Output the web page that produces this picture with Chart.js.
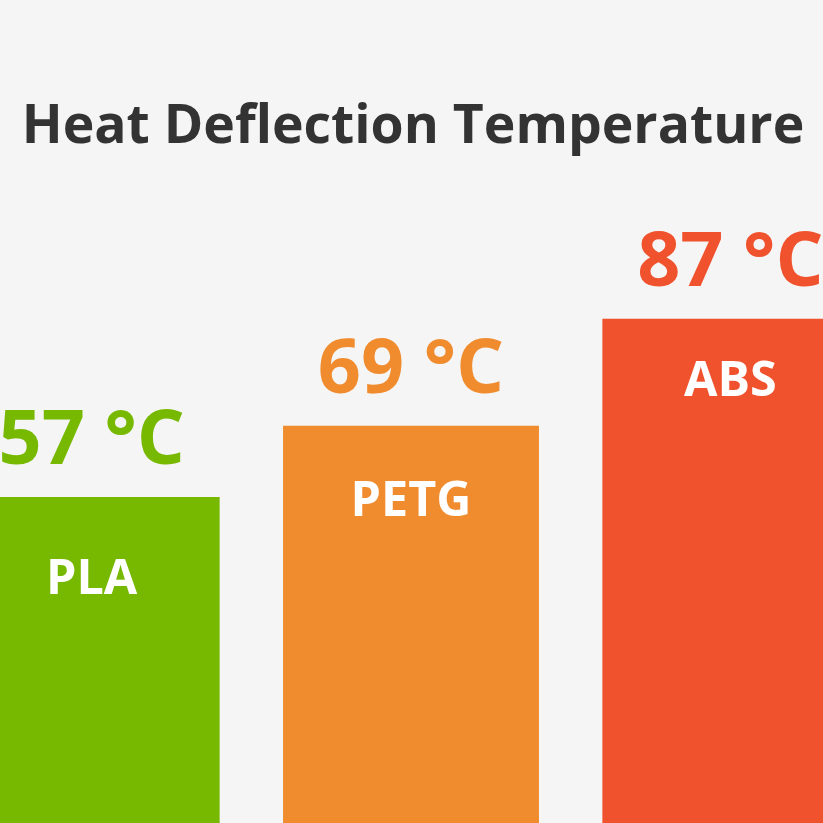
<!DOCTYPE html>
<html>
<head>
<meta charset="utf-8">
<script src="https://cdn.jsdelivr.net/npm/chart.js@4"></script>
<style>
  html, body { margin: 0; padding: 0; background: #f5f5f5; overflow: hidden; width: 823px; height: 823px; }
  #wrap { position: absolute; left: -68px; top: 0; width: 958px; height: 836px; }
</style>
</head>
<body>
<div id="wrap"><canvas id="c" width="958" height="836"></canvas></div>
<script>
const chartTitle = "Heat Deflection Temperature";
const categories = ["PLA", "PETG", "ABS"];
const temperatures = [57, 69, 87];
const unit = "°C";
const barColors = ["#77b800", "#f08c2e", "#f0522d"];

const labelPlugin = {
  id: 'labelPlugin',
  afterDatasetsDraw(chart, args, opts) {
    const ctx = chart.ctx;
    const meta = chart.getDatasetMeta(0);
    ctx.save();
    // title
    ctx.fillStyle = '#333333';
    ctx.font = 'bold 53.5px "Open Sans"';
    ctx.textAlign = 'center';
    ctx.textBaseline = 'alphabetic';
    ctx.fillText(chartTitle, 413 + 68, 143);
    meta.data.forEach((bar, i) => {
      // value label above bar
      ctx.fillStyle = barColors[i];
      ctx.font = 'bold 75.5px "Open Sans"';
      ctx.fillText(temperatures[i] + ' ' + unit, bar.x, bar.y - 33);
      // category label inside bar
      ctx.fillStyle = '#ffffff';
      ctx.font = 'bold 48.5px "Open Sans"';
      ctx.fillText(categories[i], bar.x, bar.y + opts.innerOffsets[i]);
    });
    ctx.restore();
  }
};

function draw() {
  new Chart(document.getElementById('c'), {
    type: 'bar',
    data: {
      labels: categories,
      datasets: [{
        data: temperatures,
        backgroundColor: barColors,
        borderWidth: 0,
        barPercentage: 0.8015,
        categoryPercentage: 1.0
      }]
    },
    options: {
      responsive: false,
      animation: false,
      layout: { padding: 0 },
      plugins: {
        legend: { display: false },
        tooltip: { enabled: false },
        title: { display: false },
        labelPlugin: { innerOffsets: [97, 90, 77] }
      },
      scales: {
        x: { display: false, offset: true },
        y: { display: false, min: 0, max: 140.6 }
      }
    },
    plugins: [labelPlugin]
  });
}
if (document.fonts && document.fonts.load) {
  Promise.all([document.fonts.load('bold 55px "Open Sans"')]).then(draw, draw);
} else { draw(); }
</script>
</body>
</html>
